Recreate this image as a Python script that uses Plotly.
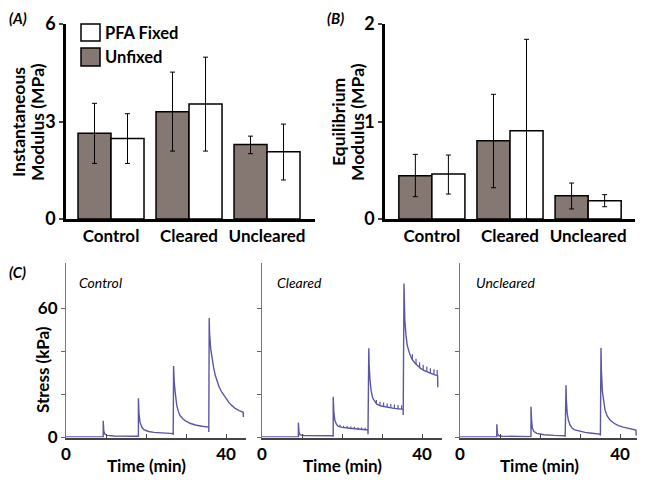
import plotly.graph_objects as go

# page body has an 8px margin; the figure fills the rest of the 645x480 window
OFF = 8
W, H = 645 - OFF, 480 - OFF

# ---------------- data: bar panels ----------------
categories = ["Control", "Cleared", "Uncleared"]
cat_pos = [0, 1, 2]

inst_unfixed = [2.64, 3.30, 2.29]
inst_unfixed_hi = [3.56, 4.52, 2.55]
inst_unfixed_lo = [1.71, 2.09, 2.01]
inst_fixed = [2.48, 3.54, 2.07]
inst_fixed_hi = [3.24, 4.98, 2.92]
inst_fixed_lo = [1.71, 2.09, 1.20]

eq_unfixed = [0.444, 0.803, 0.239]
eq_unfixed_hi = [0.663, 1.279, 0.369]
eq_unfixed_lo = [0.229, 0.321, 0.103]
eq_fixed = [0.462, 0.906, 0.188]
eq_fixed_hi = [0.656, 1.843, 0.250]
eq_fixed_lo = [0.256, 0.000, 0.126]

# ---------------- data: stress relaxation traces ----------------
control_t = [0, 9.3, 9.3, 9.45, 9.7, 10.3, 12, 18.1,
             18.1, 18.1, 18.25, 18.5, 19.0, 19.5, 20.6, 22, 23.9, 26.8,
             26.8, 26.9, 27.05, 27.3, 27.7, 28.1, 28.5, 29.2, 29.8, 31, 32.3, 34, 35.7,
             35.7, 35.8, 35.9, 36.2, 36.5, 36.9, 37.3, 37.7, 38.3, 39.0, 39.8, 40.7, 41.5, 42.3, 43.3, 44.3, 44.35]
control_s = [0.3, 0.3, 7.8, 3.0, 1.6, 1.0, 0.7, 0.6,
             0.2, 18.2, 11.0, 7.1, 4.6, 3.6, 2.8, 2.4, 2.2, 1.8,
             1.2, 33.2, 26.0, 20.9, 14.8, 12.0, 10.2, 8.7, 7.8, 6.6, 5.8, 5.2, 4.8,
             2.6, 55.5, 48.0, 40.9, 36.5, 32.5, 29.0, 26.3, 23.3, 20.9, 18.5, 16.3, 14.8, 13.5, 12.5, 11.7, 9.5]

cleared_t = [0, 9.1, 9.1, 9.25, 9.5, 10.5, 17.8,
             17.8, 17.8, 17.95, 18.2, 18.6, 19.0, 20, 21.9, 24, 26.5,
             26.5, 26.7, 26.8, 27.0, 27.3, 27.7, 28.2, 28.7, 29.8, 31.2, 33, 35.3,
             35.3, 35.5, 35.6, 35.7, 36.0, 36.3, 36.8, 37.4, 38.0, 38.7, 39.5, 40.3, 41.2, 42, 43, 43.9, 43.95]
cleared_s = [0.3, 0.3, 6.9, 2.5, 1.2, 0.9, 0.8,
             0.3, 18.9, 12.0, 8.1, 6.2, 5.3, 4.7, 4.3, 3.9, 3.5,
             1.5, 41.4, 33.0, 26.7, 21.5, 18.2, 16.5, 15.5, 14.6, 14.0, 13.5, 13.1,
             10.4, 71.5, 62.0, 54.5, 47.5, 42.9, 39.5, 36.7, 35.0, 33.6, 32.3, 31.3, 30.5, 29.8, 29.2, 28.7, 23.3]

# small upward ripples visible on the Cleared plateaus
cleared_ripple_t = [19.5, 20.4, 21.3, 22.2, 23.1, 24.0, 24.9, 25.8,
                    28.6, 29.5, 30.4, 31.3, 32.2, 33.1, 34.0, 34.9,
                    37.6, 38.5, 39.4, 40.3, 41.2, 42.1, 43.0, 43.8]
cleared_ripple_lo = [5.0, 4.6, 4.4, 4.2, 4.1, 3.9, 3.7, 3.6,
                     15.6, 14.8, 14.4, 14.0, 13.8, 13.5, 13.3, 13.2,
                     36.2, 34.0, 32.4, 31.3, 30.5, 29.7, 29.2, 28.8]
cleared_ripple_hi = [5.9, 5.5, 5.3, 5.1, 5.0, 4.8, 4.6, 4.5,
                     17.4, 16.6, 16.2, 15.8, 15.6, 15.3, 15.1, 15.0,
                     38.7, 36.5, 34.9, 33.8, 33.0, 32.2, 31.7, 31.3]

uncleared_t = [0, 9.2, 9.2, 9.35, 9.6, 10.5, 17.75,
               17.75, 17.75, 17.9, 18.1, 18.5, 19.2, 21, 23.5, 26.3,
               26.3, 26.5, 26.6, 26.8, 27.1, 27.5, 28.0, 28.7, 29.8, 31.25, 33, 35,
               35.1, 35.25, 35.35, 35.6, 35.9, 36.25, 36.8, 37.5, 38.5, 39.6, 40.8, 42.1, 43, 44, 44.05]
uncleared_s = [0.3, 0.3, 6.1, 2.0, 0.9, 0.6, 0.4,
               0.2, 14.3, 8.0, 4.3, 2.8, 1.9, 1.3, 1.0, 0.8,
               0.3, 24.3, 17.0, 11.2, 8.0, 5.8, 4.4, 3.5, 2.9, 2.4, 2.0, 1.6,
               0.9, 41.6, 31.0, 21.3, 16.0, 12.8, 10.0, 8.1, 6.6, 5.5, 4.8, 4.3, 3.9, 3.5, 0.9]

stress_panels = [("Control", control_t, control_s),
                 ("Cleared", cleared_t, cleared_s),
                 ("Uncleared", uncleared_t, uncleared_s)]

time_ticks = [0, 10, 20, 30, 40]
time_ticktext = ["0", "", "", "", "40"]
stress_ticks = [0, 20, 40, 60]
stress_ticktext = ["0", "", "", "60"]

# ---------------- styling ----------------
FONT = "Lato"
UNFIXED_COLOR = "#857872"
LINE_COLOR = "#5a55a6"


def fx(p):
    return (p - OFF) / W


def fy(p):
    return 1 - (p - OFF) / H


fig = go.Figure()


def err(vals, hi, lo):
    return dict(type="data", symmetric=False,
                array=[h - v for h, v in zip(hi, vals)],
                arrayminus=[v - l for l, v in zip(lo, vals)],
                color="black", thickness=1, width=2.5)


bw = 0.423
for xa, ya, un, unh, unl, fi, fih, fil in [
    ("x", "y", inst_unfixed, inst_unfixed_hi, inst_unfixed_lo, inst_fixed, inst_fixed_hi, inst_fixed_lo),
    ("x2", "y2", eq_unfixed, eq_unfixed_hi, eq_unfixed_lo, eq_fixed, eq_fixed_hi, eq_fixed_lo),
]:
    fig.add_trace(go.Bar(x=cat_pos, y=un, width=bw, offset=-bw, xaxis=xa, yaxis=ya,
                         marker=dict(color=UNFIXED_COLOR, line=dict(color="black", width=1.5)),
                         error_y=err(un, unh, unl), showlegend=False, name="Unfixed"))
    fig.add_trace(go.Bar(x=cat_pos, y=fi, width=bw, offset=0, xaxis=xa, yaxis=ya,
                         marker=dict(color="white", line=dict(color="black", width=1.5)),
                         error_y=err(fi, fih, fil), showlegend=False, name="PFA Fixed"))

for i, (name, t, s) in enumerate(stress_panels):
    n = i + 3
    fig.add_trace(go.Scatter(x=t, y=s, mode="lines", xaxis=f"x{n}", yaxis=f"y{n}",
                             line=dict(color=LINE_COLOR, width=1.4), showlegend=False, name=name))

# ripple ticks on the Cleared curve
rx, ry = [], []
for t, lo, hi in zip(cleared_ripple_t, cleared_ripple_lo, cleared_ripple_hi):
    rx += [t, t, None]
    ry += [lo, hi, None]
fig.add_trace(go.Scatter(x=rx, y=ry, mode="lines", xaxis="x4", yaxis="y4",
                         line=dict(color=LINE_COLOR, width=1.2), showlegend=False, name="Cleared ripple"))

tickfont = dict(family=FONT, size=17, color="black", weight=700)
bartickfont = dict(family=FONT, size=18, color="black", weight=700)
bar_y_dom = [fy(219), fy(24)]

layout = dict(
    width=W, height=H, margin=dict(l=0, r=0, t=0, b=0, pad=0, autoexpand=False),
    paper_bgcolor="white", plot_bgcolor="white", showlegend=False,
    xaxis=dict(domain=[fx(66), fx(315)], range=[-0.577, 2.615], anchor="y",
               tickvals=cat_pos, ticktext=categories, ticks="", showline=True, automargin=False,
               linecolor="black", linewidth=2.5, showgrid=False, zeroline=False, tickfont=tickfont),
    yaxis=dict(domain=bar_y_dom, range=[0, 6], anchor="x", tickvals=[0, 3, 6], automargin=False,
               ticks="outside", ticklen=4, tickwidth=1.5, showline=True, linecolor="black",
               linewidth=2.5, showgrid=False, zeroline=False, tickfont=bartickfont),
    xaxis2=dict(domain=[fx(385), fx(635)], range=[-0.6, 2.6], anchor="y2", automargin=False,
                tickvals=cat_pos, ticktext=categories, ticks="", showline=True,
                linecolor="black", linewidth=2.5, showgrid=False, zeroline=False, tickfont=tickfont),
    yaxis2=dict(domain=bar_y_dom, range=[0, 2], anchor="x2", tickvals=[0, 1, 2], automargin=False,
                ticks="outside", ticklen=4, tickwidth=1.5, showline=True, linecolor="black",
                linewidth=2.5, showgrid=False, zeroline=False, tickfont=bartickfont),
)

stress_x_doms = [[fx(66), fx(246)], [fx(262), fx(442)], [fx(460), fx(640)]]
for i, dom in enumerate(stress_x_doms):
    n = i + 3
    layout[f"xaxis{n}"] = dict(domain=dom, range=[0, 45], anchor=f"y{n}", automargin=False,
                               tickvals=time_ticks, ticktext=time_ticktext,
                               ticks="inside", ticklen=4, tickcolor="#444",
                               showline=True, linecolor="#444", linewidth=1.5,
                               showgrid=False, zeroline=False, tickfont=tickfont)
    layout[f"yaxis{n}"] = dict(domain=[fy(437.5), fy(263)], range=[0, 81], anchor=f"x{n}",
                               tickvals=stress_ticks, ticktext=stress_ticktext, automargin=False,
                               showticklabels=(i == 0),
                               ticks="outside", ticklen=4, tickcolor="#666",
                               showline=True, linecolor="#777", linewidth=1,
                               showgrid=False, zeroline=False, tickfont=tickfont)

fig.update_layout(**layout)

# legend swatches (panel A)
fig.add_shape(type="rect", xref="paper", yref="paper", x0=fx(81), x1=fx(100), y0=fy(41), y1=fy(24),
              line=dict(color="black", width=1.5), fillcolor="white")
fig.add_shape(type="rect", xref="paper", yref="paper", x0=fx(81), x1=fx(100), y0=fy(66), y1=fy(48),
              line=dict(color="black", width=1.5), fillcolor=UNFIXED_COLOR)


def ann(text, x, y, size=17, weight=700, style="normal", xanchor="center", angle=0, yanchor="middle"):
    fig.add_annotation(text=text, x=fx(x), y=fy(y), xref="paper", yref="paper",
                       showarrow=False, xanchor=xanchor, yanchor=yanchor, textangle=angle,
                       borderpad=0,
                       font=dict(family=FONT, size=size, color="black", weight=weight, style=style))


ann("PFA Fixed", 104, 33, size=16.5, xanchor="left")
ann("Unfixed", 104, 57, size=16.5, xanchor="left")

ann("(A)", 8, 8, size=15, style="italic", xanchor="left", yanchor="top")
ann("(B)", 326, 8, size=15, style="italic", xanchor="left", yanchor="top")
ann("(C)", 8, 272, size=15, style="italic", xanchor="left")

ann("Instantaneous", 18, 122, size=17.5, angle=-90)
ann("Modulus (MPa)", 37, 122, size=17.5, angle=-90)
ann("Equilibrium", 338, 122, size=17.5, angle=-90)
ann("Modulus (MPa)", 357, 122, size=17.5, angle=-90)

ann("Stress (kPa)", 42, 370, size=17, angle=-90)
for xc in [146, 342, 539]:
    ann("Time (min)", xc, 465, size=17)

for (name, _, _), xl in zip(stress_panels, [78, 276, 475]):
    ann(name, xl, 282, size=14, weight=400, style="italic", xanchor="left")

fig.write_html("out.html")
